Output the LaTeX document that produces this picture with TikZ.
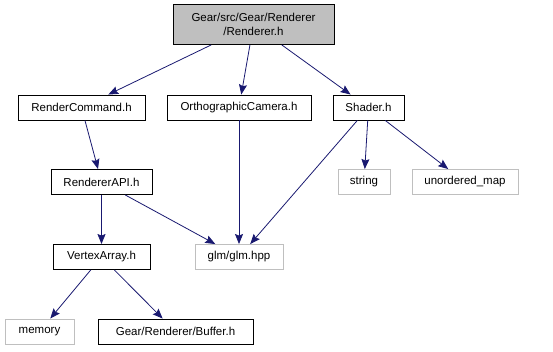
\documentclass[tikz,border=0pt]{standalone}
\usepackage{fontspec}
\setmainfont{Liberation Sans}
\usetikzlibrary{positioning, arrows.meta}
\definecolor{edgeblue}{HTML}{191970}
\definecolor{sysgray}{HTML}{BFBFBF}
\tikzset{
x=1pt, y=-1pt, % one unit per pixel, y going down
every node/.style={font=\fontsize{11.5}{13.5}\selectfont, inner sep=0pt, align=center},
file/.style={draw=black, fill=white, line width=0.9pt, minimum height=25pt}, % headers of the project
sysfile/.style={draw=sysgray, fill=white, line width=0.9pt, minimum height=25pt}, % headers it cannot see
rootfile/.style={file, fill=sysgray, minimum height=40pt},
inc/.style={draw=edgeblue, line width=0.8pt, -{Stealth[length=10pt, width=8pt, inset=1.5pt]}, edgeblue},
}
\begin{document}
\begin{tikzpicture}
\useasboundingbox (0,0) rectangle (553,351);
            \node[rootfile, minimum width=161pt] (renderer) at (253.5,24.5) {Gear/src/Gear/Renderer\\/Renderer.h};
            % first row
            \node[file, minimum width=127pt] (rendercmd) at (81.5,107.5) {RenderCommand.h};
            \node[file, minimum width=144pt] (orthocam) at (239,107.5) {OrthographicCamera.h};
            \node[file, minimum width=71pt] (shader) at (368.5,107.5) {Shader.h};
            % second row
            \node[file, minimum width=101pt] (rendererapi) at (101.5,182) {RendererAPI.h};
            \node[sysfile, minimum width=52pt] (string) at (364,182) {string};
            \node[sysfile, minimum width=106pt] (umap) at (465,182) {unordered\_map};
            % third row
            \node[file, minimum width=97pt] (vertexarray) at (101.5,257) {VertexArray.h};
            \node[sysfile, minimum width=88pt] (glm) at (239,257) {glm/glm.hpp};
            % last row
            \node[sysfile, minimum width=69pt] (memory) at (39.5,331.5) {memory};
            \node[file, minimum width=155pt] (buffer) at (175.5,331.5) {Gear/Renderer/Buffer.h};
            \path[inc]
                (renderer) edge (rendercmd)
                (renderer) edge (orthocam)
                (renderer) edge (shader)
                (rendercmd) edge (rendererapi)
                (rendererapi) edge (vertexarray)
                (rendererapi) edge (glm)
                (orthocam) edge (glm)
                (shader) edge (glm)
                (shader) edge (string)
                (shader) edge (umap)
                (vertexarray) edge (memory)
                (vertexarray) edge (buffer)
                ;
\end{tikzpicture}
\end{document}
